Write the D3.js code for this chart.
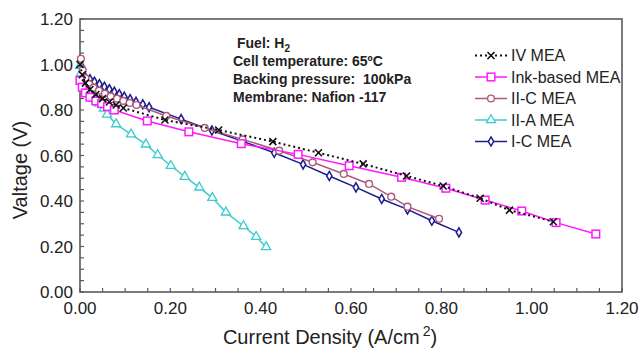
<!DOCTYPE html>
<html>
<head>
<meta charset="utf-8">
<script src="https://cdn.jsdelivr.net/npm/d3@7/dist/d3.min.js"></script>
<style>
  body { margin: 0; background: #fff; }
  text { font-family: Arial, "Liberation Sans", sans-serif; fill: #222; white-space: pre; }
</style>
</head>
<body>
<svg id="chart" width="642" height="350"></svg>
<script>
// series data (current density A/cm2, voltage V)
var ivX  = [0.000, 0.005, 0.012, 0.022, 0.035, 0.050, 0.065, 0.080, 0.096, 0.188, 0.307, 0.427, 0.528, 0.627, 0.723, 0.804, 0.886, 0.951, 1.048];
var ivY  = [1.000, 0.955, 0.918, 0.890, 0.868, 0.850, 0.835, 0.822, 0.809, 0.756, 0.712, 0.661, 0.612, 0.563, 0.510, 0.466, 0.412, 0.360, 0.309];

var inkX = [0.000, 0.005, 0.012, 0.022, 0.035, 0.048, 0.061, 0.076, 0.149, 0.241, 0.357, 0.483, 0.596, 0.712, 0.810, 0.897, 0.978, 1.054, 1.142];
var inkY = [0.930, 0.900, 0.875, 0.856, 0.840, 0.828, 0.815, 0.800, 0.752, 0.704, 0.652, 0.605, 0.555, 0.504, 0.456, 0.404, 0.356, 0.305, 0.255];

var iicX = [0.002, 0.006, 0.012, 0.020, 0.030, 0.042, 0.055, 0.068, 0.082, 0.096, 0.110, 0.125, 0.191, 0.276, 0.360, 0.441, 0.515, 0.584, 0.640, 0.689, 0.725, 0.795];
var iicY = [1.025, 0.975, 0.940, 0.915, 0.898, 0.885, 0.872, 0.860, 0.850, 0.840, 0.831, 0.822, 0.774, 0.721, 0.671, 0.621, 0.570, 0.519, 0.475, 0.419, 0.375, 0.322];

var iiaX = [0.000, 0.002, 0.005, 0.013, 0.020, 0.031, 0.042, 0.053, 0.060, 0.080, 0.113, 0.146, 0.172, 0.201, 0.232, 0.264, 0.293, 0.323, 0.362, 0.390, 0.412];
var iiaY = [0.995, 0.961, 0.924, 0.895, 0.873, 0.851, 0.829, 0.807, 0.780, 0.738, 0.693, 0.649, 0.602, 0.555, 0.507, 0.460, 0.414, 0.350, 0.290, 0.243, 0.198];

var icX  = [0.0015, 0.004, 0.011, 0.022, 0.032, 0.043, 0.054, 0.065, 0.076, 0.087, 0.098, 0.111, 0.124, 0.139, 0.153, 0.224, 0.292, 0.362, 0.430, 0.494, 0.552, 0.611, 0.668, 0.725, 0.779, 0.839];
var icY  = [1.017, 0.990, 0.946, 0.935, 0.924, 0.913, 0.902, 0.891, 0.880, 0.869, 0.858, 0.847, 0.836, 0.825, 0.812, 0.760, 0.710, 0.661, 0.612, 0.561, 0.510, 0.460, 0.409, 0.363, 0.313, 0.262];

var seriesNames = ["IV MEA", "Ink-based MEA", "II-C MEA", "II-A MEA", "I-C MEA"];
var xTicks = [0, 0.2, 0.4, 0.6, 0.8, 1.0, 1.2];
var yTicks = [0, 0.2, 0.4, 0.6, 0.8, 1.0, 1.2];
var notes = ["Cell temperature: 65ºC", "Backing pressure:  100kPa", "Membrane: Nafion -117"];

var svg = d3.select("#chart");
var mLeft = 80, mRight = 622, mTop = 19, mBottom = 292;

var x = d3.scaleLinear().domain([0, 1.2]).range([mLeft, mRight]);
var y = d3.scaleLinear().domain([0, 1.2]).range([mBottom, mTop]);

var frameColor = "#5a5a5a";

// minor ticks every 0.05, pointing inward
var minor = d3.range(0, 1.2001, 0.05);
svg.append("g").selectAll("line").data(minor).enter().append("line")
    .attr("x1", function (d) { return x(d); }).attr("x2", function (d) { return x(d); })
    .attr("y1", mBottom).attr("y2", mBottom - 4)
    .attr("stroke", frameColor).attr("stroke-width", 1.2);
svg.append("g").selectAll("line").data(minor).enter().append("line")
    .attr("y1", function (d) { return y(d); }).attr("y2", function (d) { return y(d); })
    .attr("x1", mLeft).attr("x2", mLeft + 4)
    .attr("stroke", frameColor).attr("stroke-width", 1.2);

// frame
svg.append("rect")
    .attr("x", mLeft).attr("y", mTop)
    .attr("width", mRight - mLeft).attr("height", mBottom - mTop)
    .attr("fill", "none").attr("stroke", frameColor).attr("stroke-width", 1.6);

// tick labels
svg.append("g").selectAll("text").data(xTicks).enter().append("text")
    .attr("x", function (d) { return x(d); }).attr("y", 314)
    .attr("text-anchor", "middle").style("font-size", "17px")
    .text(function (d) { return d3.format(".2f")(d); });
svg.append("g").selectAll("text").data(yTicks).enter().append("text")
    .attr("x", 73).attr("y", function (d) { return y(d); })
    .attr("dy", "0.36em")
    .attr("text-anchor", "end").style("font-size", "17px")
    .text(function (d) { return d3.format(".2f")(d); });

// axis titles
var xt = svg.append("text").attr("x", 330).attr("y", 344)
    .attr("text-anchor", "middle").style("font-size", "20px");
xt.append("tspan").text("Current Density (A/cm");
xt.append("tspan").attr("dy", -8).attr("dx", 3).style("font-size", "14px").text("2");
xt.append("tspan").attr("dy", 8).text(")");

svg.append("text")
    .attr("transform", "translate(27,170) rotate(-90)")
    .attr("text-anchor", "middle").style("font-size", "20px")
    .text("Valtage (V)");

// notes
var fuel = svg.append("text").attr("x", 237).attr("y", 48)
    .style("font-size", "14px").style("font-weight", "bold");
fuel.append("tspan").text("Fuel: H");
fuel.append("tspan").attr("dy", 4).style("font-size", "10px").text("2");
svg.append("g").selectAll("text").data(notes).enter().append("text")
    .attr("x", 233).attr("y", function (d, i) { return 66 + i * 18; })
    .style("font-size", "14px").style("font-weight", "bold")
    .text(function (d) { return d; });

// series drawing
var series = [
    { name: seriesNames[4], xs: icX,  ys: icY,  color: "#1c1c8e", dash: null,  marker: "diamond" },
    { name: seriesNames[3], xs: iiaX, ys: iiaY, color: "#3ccccc", dash: null,  marker: "triangle" },
    { name: seriesNames[2], xs: iicX, ys: iicY, color: "#ad5a7c", dash: null,  marker: "circle" },
    { name: seriesNames[1], xs: inkX, ys: inkY, color: "#ff19ff", dash: null,  marker: "square" },
    { name: seriesNames[0], xs: ivX,  ys: ivY,  color: "#111111", dash: "2,3", marker: "cross" }
];

var line = d3.line().x(function (d) { return x(d[0]); }).y(function (d) { return y(d[1]); });

function drawMarker(g, type, color) {
    if (type === "cross") {
        g.append("path").attr("d", "M-3.5,-3.5L3.5,3.5M-3.5,3.5L3.5,-3.5")
            .attr("stroke", color).attr("stroke-width", 1.6).attr("fill", "none");
    } else if (type === "square") {
        g.append("rect").attr("x", -3.8).attr("y", -3.8).attr("width", 7.6).attr("height", 7.6)
            .attr("fill", "#fff").attr("stroke", color).attr("stroke-width", 1.5);
    } else if (type === "circle") {
        g.append("circle").attr("r", 3.4)
            .attr("fill", "#fff").attr("stroke", color).attr("stroke-width", 1.4);
    } else if (type === "triangle") {
        g.append("path").attr("d", d3.symbol().type(d3.symbolTriangle).size(36)())
            .attr("fill", "#fff").attr("stroke", color).attr("stroke-width", 1.3);
    } else if (type === "diamond") {
        g.append("path").attr("d", d3.symbol().type(d3.symbolDiamond).size(24)())
            .attr("fill", "#fff").attr("stroke", color).attr("stroke-width", 1.5);
    }
}

series.forEach(function (s) {
    var pts = s.xs.map(function (v, i) { return [v, s.ys[i]]; });
    svg.append("path").datum(pts)
        .attr("d", line)
        .attr("fill", "none")
        .attr("stroke", s.color)
        .attr("stroke-width", s.dash ? 2 : 1.5)
        .attr("stroke-dasharray", s.dash);
    pts.forEach(function (p) {
        var g = svg.append("g").attr("transform", "translate(" + x(p[0]) + "," + y(p[1]) + ")");
        drawMarker(g, s.marker, s.color);
    });
});

// legend
var legendOrder = series.slice().reverse();
legendOrder.forEach(function (s, i) {
    var ly = 55.5 + i * 21.5;
    svg.append("line").attr("x1", 475).attr("x2", 507).attr("y1", ly).attr("y2", ly)
        .attr("stroke", s.color).attr("stroke-width", s.dash ? 2 : 1.5)
        .attr("stroke-dasharray", s.dash);
    var g = svg.append("g").attr("transform", "translate(491," + ly + ")");
    drawMarker(g, s.marker, s.color);
    svg.append("text").attr("x", 511).attr("y", ly).attr("dy", "0.36em")
        .style("font-size", "16px").text(s.name);
});
</script>
</body>
</html>
